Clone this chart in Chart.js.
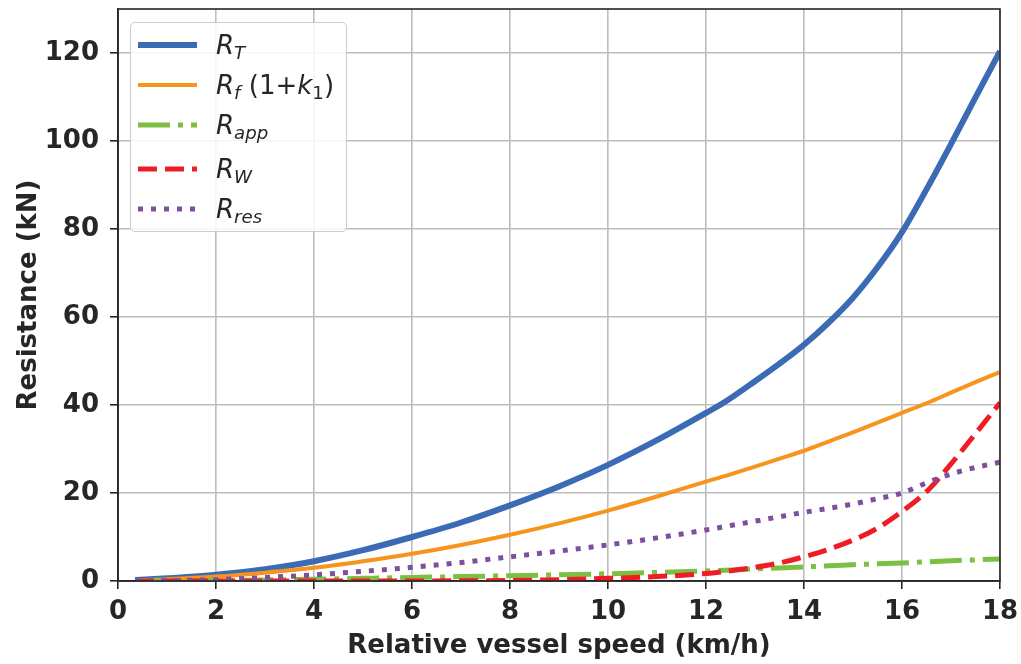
<!DOCTYPE html>
<html>
<head>
<meta charset="utf-8">
<script src="https://cdn.jsdelivr.net/npm/chart.js@4.4.0/dist/chart.umd.min.js"></script>
<style>
  body { margin: 0; background: #fff; }
  #wrap { position: relative; width: 1021px; height: 664px; }
  #legend {
    position: absolute; left: 130px; top: 22px; width: 215px; height: 208px;
    border: 1.5px solid #cccccc; border-radius: 5px; background: rgba(255,255,255,0.85);
    font-family: 'DejaVu Sans', sans-serif; font-size: 26px; color: #262626;
  }
  #legend .row { position: absolute; left: 0; height: 40px; }
  #legend svg { position: absolute; left: 7px; top: 15px; }
  #legend .lbl { position: absolute; left: 85px; white-space: nowrap; line-height: 40px; top: 0; }
  #legend i { font-style: italic; }
  #legend sub { font-size: 70%; vertical-align: -0.28em; line-height: 0; }
  #legend sub.up { font-style: normal; }
</style>
</head>
<body>
<div id="wrap">
  <canvas id="res-chart" width="1021" height="664"></canvas>
  <div id="legend"></div>
</div>
<script>
// vitesse relative (km/h) et composantes de resistance (kN)
const speed     = [0.35, 1, 2, 3, 4, 5, 6, 7, 8, 9, 10, 11, 12, 12.4, 13, 13.5, 14, 14.5, 15, 15.5, 16, 16.5, 17, 17.5, 18];
const rTotal    = [0.2, 0.6, 1.4, 2.7, 4.5, 7.0, 10.0, 13.3, 17.2, 21.5, 26.4, 32.0, 38.2, 40.8, 45.4, 49.4, 53.7, 58.7, 64.4, 71.3, 79.3, 89.0, 99.3, 109.9, 120.4];
const rFriction = [0.15, 0.4, 1.0, 1.9, 3.0, 4.5, 6.2, 8.2, 10.5, 13.1, 16.0, 19.2, 22.6, 23.9, 26.0, 27.8, 29.6, 31.7, 33.8, 36.0, 38.2, 40.4, 42.8, 45.2, 47.5];
const rApp      = [0.0, 0.05, 0.1, 0.25, 0.4, 0.6, 0.8, 1.0, 1.2, 1.4, 1.65, 1.95, 2.3, 2.45, 2.75, 2.97, 3.2, 3.45, 3.7, 3.9, 4.1, 4.35, 4.6, 4.8, 5.0];
const rWave     = [0.0, 0.0, 0.0, 0.0, 0.0, 0.0, 0.0, 0.05, 0.1, 0.3, 0.6, 1.0, 1.7, 2.2, 3.1, 4.1, 5.5, 7.2, 9.3, 12.0, 15.8, 20.3, 26.6, 33.5, 40.5];
const rRes      = [0.05, 0.1, 0.3, 0.8, 1.4, 2.2, 3.1, 4.2, 5.5, 6.8, 8.2, 9.8, 11.6, 12.4, 13.6, 14.6, 15.6, 16.5, 17.5, 18.7, 20.0, 22.3, 24.3, 25.8, 27.0];

const yTickValues = [0, 20, 40, 60, 80, 100, 120];

const INK = '#262626';
const GRID = '#bdbdbd';

// legende : couleur, epaisseur, tirets, libelle mathtext
const series = [
  { data: rTotal,    color: '#3b6bb5', width: 6, dash: [],            label: '<i>R</i><sub><i>T</i></sub>', y: 22 },
  { data: rFriction, color: '#f7941d', width: 4, dash: [],            label: '<i>R</i><sub><i>f</i></sub> (1+<i>k</i><sub class="up">1</sub>)', y: 62 },
  { data: rApp,      color: '#7bc043', width: 5, dash: [32, 8, 5, 8], label: '<i>R</i><sub><i>app</i></sub>', y: 102 },
  { data: rWave,     color: '#ee1d25', width: 5, dash: [19, 8],       label: '<i>R</i><sub><i>W</i></sub>', y: 146 },
  { data: rRes,      color: '#7f4f9f', width: 5, dash: [5, 8],        label: '<i>R</i><sub><i>res</i></sub>', y: 186 }
];

function toPoints(arr) {
  return speed.map(function(v, i) { return { x: v, y: arr[i] }; });
}

const datasets = series.map(function(s, i) {
  return {
    data: toPoints(s.data),
    borderColor: s.color,
    borderWidth: s.width,
    borderDash: s.dash,
    borderCapStyle: 'butt',
    pointRadius: 0,
    fill: false,
    cubicInterpolationMode: 'monotone',
    order: series.length - i
  };
});

// cadre complet autour de la zone de trace
const frame = {
  id: 'frame',
  afterDraw: function(chart) {
    const a = chart.chartArea, ctx = chart.ctx;
    ctx.save();
    ctx.strokeStyle = INK;
    ctx.lineWidth = 1.6;
    ctx.strokeRect(a.left, a.top, a.right - a.left, a.bottom - a.top);
    ctx.restore();
  }
};

const tickFont = { family: "'DejaVu Sans', sans-serif", size: 26, weight: 'bold' };

new Chart(document.getElementById('res-chart').getContext('2d'), {
  type: 'line',
  data: { datasets: datasets },
  options: {
    responsive: false,
    animation: false,
    devicePixelRatio: 1,
    layout: { padding: { top: 9, right: 21, left: 0, bottom: 0 } },
    plugins: { legend: { display: false }, tooltip: { enabled: false } },
    scales: {
      x: {
        type: 'linear', min: 0, max: 18,
        ticks: { stepSize: 2, font: tickFont, color: INK, padding: 8 },
        grid: { color: GRID, lineWidth: 1.6, tickLength: 8, tickColor: INK, tickWidth: 1.6 },
        border: { color: INK, width: 1.6 },
        title: { display: true, text: 'Relative vessel speed (km/h)', font: tickFont, color: INK, padding: { top: 0, bottom: 2 } },
        afterFit: function(s) { s.height = 83; s.paddingLeft = 0; s.paddingRight = 0; }
      },
      y: {
        type: 'linear', min: 0, max: 130,
        ticks: { stepSize: 20, font: tickFont, color: INK, padding: 11 },
        afterBuildTicks: function(s) {
          s.ticks = yTickValues.map(function(v) { return { value: v }; });
        },
        grid: { color: GRID, lineWidth: 1.6, tickLength: 8, tickColor: INK, tickWidth: 1.6 },
        border: { color: INK, width: 1.6 },
        title: { display: true, text: 'Resistance (kN)', font: tickFont, color: INK, padding: { top: 14, bottom: 0 } },
        afterFit: function(s) { s.width = 118; s.paddingTop = 0; s.paddingBottom = 0; }
      }
    }
  },
  plugins: [frame]
});

// legende HTML (indices en texte reel)
const legendEl = document.getElementById('legend');
series.forEach(function(s) {
  const row = document.createElement('div');
  row.className = 'row';
  row.style.top = (s.y - 20) + 'px';
  row.style.width = '100%';
  row.innerHTML = '<svg width="60" height="10"><line x1="0" y1="5" x2="59" y2="5" stroke="' + s.color +
    '" stroke-width="' + s.width + '" stroke-dasharray="' + (s.dash.length ? s.dash.join(' ') : 'none') +
    '"/></svg><span class="lbl">' + s.label + '</span>';
  legendEl.appendChild(row);
});
</script>
</body>
</html>
